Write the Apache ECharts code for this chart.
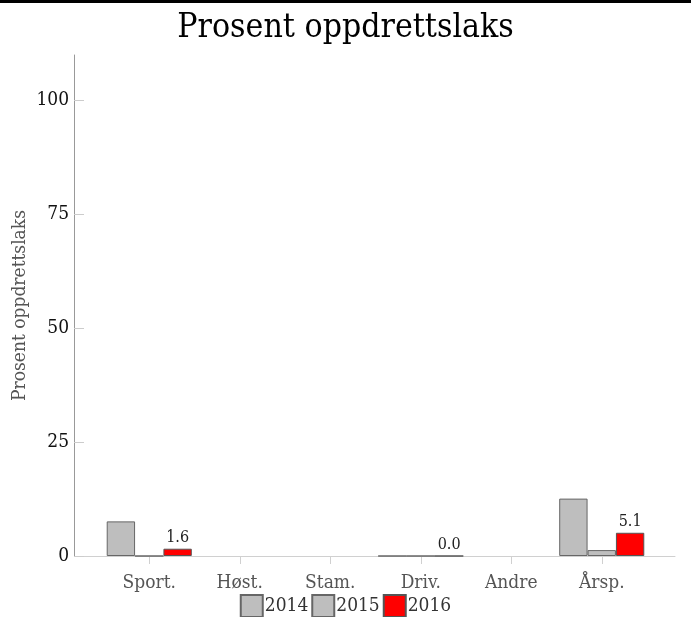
<!DOCTYPE html>
<html><head><meta charset="utf-8">
<script src="https://cdn.jsdelivr.net/npm/echarts@6/dist/echarts.min.js"></script>
<style>html,body{margin:0;padding:0;background:#fff}#c{width:691px;height:617px}</style>
</head><body><div id="c"></div>
<script>
const categories = ['Sport.', 'Høst.', 'Stam.', 'Driv.', 'Andre', 'Årsp.'];
const v2014 = [7.6, null, null, 0.0, null, 12.6];
const v2015 = [0.0, null, null, 0.0, null, 1.3];
const v2016 = [1.6, null, null, 0.0, null, 5.1];
const yTicks = [0, 25, 50, 75, 100];
const FONT = "'DejaVu Serif Condensed', 'DejaVu Serif', serif";
const chart = echarts.init(document.getElementById('c'));
const barBase = {type: 'bar', xAxisIndex: 1, yAxisIndex: 1, barGap: '0%', barCategoryGap: '6%'};
chart.setOption({
  animation: false,
  textStyle: {fontFamily: FONT},
  title: {text: 'Prosent oppdrettslaks', left: 'center', top: 6,
    textStyle: {fontFamily: FONT, fontSize: 33.5, fontWeight: 'normal', color: '#000'}},
  graphic: [{type: 'rect', shape: {x: 0, y: 0, width: 691, height: 3}, style: {fill: '#000'}}],
  legend: {top: 589, left: 'center', icon: 'rect', itemWidth: 22, itemHeight: 22, itemGap: 3,
    textStyle: {fontFamily: FONT, fontSize: 19, color: '#333', padding: [0, 0, 0, -3]},
    data: ['2014', '2015', '2016']},
  grid: [
    {left: 77, right: 16, top: 55, bottom: 61, outerBoundsMode: 'none'},
    {left: 104, right: 44, top: 55, bottom: 61, outerBoundsMode: 'none'}
  ],
  xAxis: [
    {type: 'value', gridIndex: 0, offset: 2, axisLine: {show: true, lineStyle: {color: '#d0d0d0'}},
      axisTick: {show: false}, axisLabel: {show: false}, splitLine: {show: false}},
    {type: 'category', gridIndex: 1, data: categories, offset: 2,
      axisLine: {show: false}, axisTick: {show: true, alignWithLabel: true, length: 8, lineStyle: {color: '#d0d0d0'}},
      axisLabel: {fontFamily: FONT, fontSize: 19, color: '#555', margin: 16}}
  ],
  yAxis: [
    {type: 'value', gridIndex: 0, show: false, min: 0, max: 110},
    {type: 'value', gridIndex: 1, min: 0, max: 110, offset: 30, interval: 25,
      name: 'Prosent oppdrettslaks', nameLocation: 'middle', nameGap: 44, nameMoveOverlap: false,
      nameTextStyle: {fontFamily: FONT, fontSize: 19, color: '#555'},
      axisLine: {show: true, lineStyle: {color: '#999'}},
      axisTick: {show: true, inside: true, length: 10, lineStyle: {color: '#ccc'}, customValues: yTicks},
      axisLabel: {fontFamily: FONT, fontSize: 19, color: '#111', margin: 5, customValues: yTicks},
      splitLine: {show: false}}
  ],
  series: [
    Object.assign({name: '2014', data: v2014, itemStyle: {color: '#bebebe', borderColor: '#666', borderWidth: 1}}, barBase),
    Object.assign({name: '2015', data: v2015, itemStyle: {color: '#bebebe', borderColor: '#666', borderWidth: 1}}, barBase),
    Object.assign({name: '2016', data: v2016, itemStyle: {color: '#ff0000', borderColor: '#555', borderWidth: 1},
      label: {show: true, position: 'top', distance: 3, fontFamily: FONT, fontSize: 16, color: '#222',
        formatter: p => p.value == null ? '' : Number(p.value).toFixed(1)}}, barBase)
  ]
});
</script></body></html>
